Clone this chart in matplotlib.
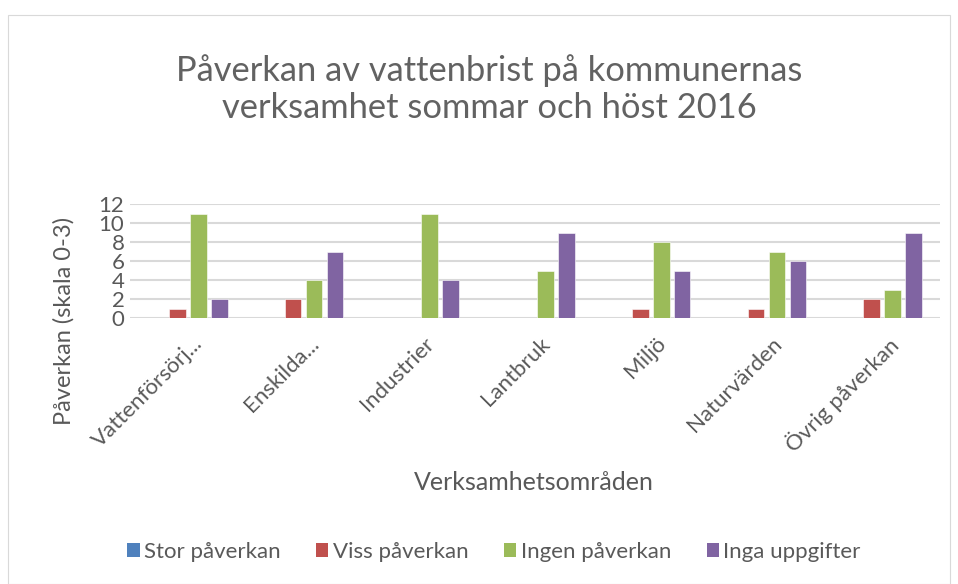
import numpy as np
import matplotlib
matplotlib.use("Agg")
import matplotlib.pyplot as plt
from matplotlib.patches import Rectangle, Patch
from matplotlib.transforms import ScaledTranslation

plt.rcParams['font.family'] = ['Lato', 'DejaVu Sans']

categories = ['Vattenförsörj...', 'Enskilda...', 'Industrier', 'Lantbruk',
              'Miljö', 'Naturvärden', 'Övrig påverkan']
series_names = ['Stor påverkan', 'Viss påverkan', 'Ingen påverkan', 'Inga uppgifter']
stor = [0, 0, 0, 0, 0, 0, 0]
viss = [1, 2, 0, 0, 1, 1, 2]
ingen = [11, 4, 11, 5, 8, 7, 3]
inga = [2, 7, 4, 9, 5, 6, 9]
colors = ['#4f81bd', '#c0504d', '#9bbb59', '#8064a2']
yticks = [0, 2, 4, 6, 8, 10, 12]

TXT = '#595959'

fig = plt.figure(figsize=(9.58, 5.84), dpi=100)
fig.patches.append(Rectangle((8 / 958, 0), 942 / 958, 569 / 584, transform=fig.transFigure,
                             fill=False, edgecolor='#d9d9d9', linewidth=0.8))

ax = fig.add_axes([130 / 958, 1 - 318 / 584, 810 / 958, 114 / 584])
x = np.arange(len(categories))
pitch = 0.181
bw = 0.144
for i, (vals, c) in enumerate(zip([stor, viss, ingen, inga], colors)):
    ax.bar(x + (i - 1.5) * pitch, vals, width=bw, color=c, zorder=3,
           edgecolor='white', linewidth=0.4, label=series_names[i])

ax.set_xlim(-0.5, len(categories) - 0.5)
ax.set_ylim(0, 12)
ax.set_yticks(yticks)
ax.set_yticklabels([str(v) for v in yticks], fontsize=16, color=TXT)
ax.grid(axis='y', color='#d9d9d9', linewidth=1.5, zorder=0)
for s in ax.spines.values():
    s.set_visible(False)
ax.tick_params(length=0, pad=4)
for lbl in ax.get_yticklabels():
    lbl.set_verticalalignment('center_baseline')

ax.set_xticks(x)
ax.set_xticklabels(categories, rotation=45, ha='right', va='top', rotation_mode='anchor',
                   fontsize=16, color=TXT)
off = ScaledTranslation(5 / 100, -10 / 100, fig.dpi_scale_trans)
for lbl in ax.get_xticklabels():
    lbl.set_transform(lbl.get_transform() + off)

ax.set_ylabel('Påverkan (skala 0-3)', fontsize=17, color=TXT)
ax.yaxis.set_label_coords(-0.068, -0.03)

fig.text(534 / 958, 1 - 483 / 584, 'Verksamhetsområden', fontsize=18, color=TXT,
         ha='center', va='center')
fig.text(489 / 958, 1 - 89 / 584, 'Påverkan av vattenbrist på kommunernas\nverksamhet sommar och höst 2016',
         fontsize=24.8, color='#626262', ha='center', va='center', linespacing=1.2)

handles = [Patch(facecolor=c) for c in colors]
leg = fig.legend(handles, series_names, loc='center', bbox_to_anchor=(494 / 958, 1 - 552 / 584),
                 ncol=4, frameon=False, fontsize=16, handlelength=0.55, handleheight=0.55,
                 handletextpad=0.2, columnspacing=1.6)
for t in leg.get_texts():
    t.set_color(TXT)

fig.savefig('out.png', dpi=100)
